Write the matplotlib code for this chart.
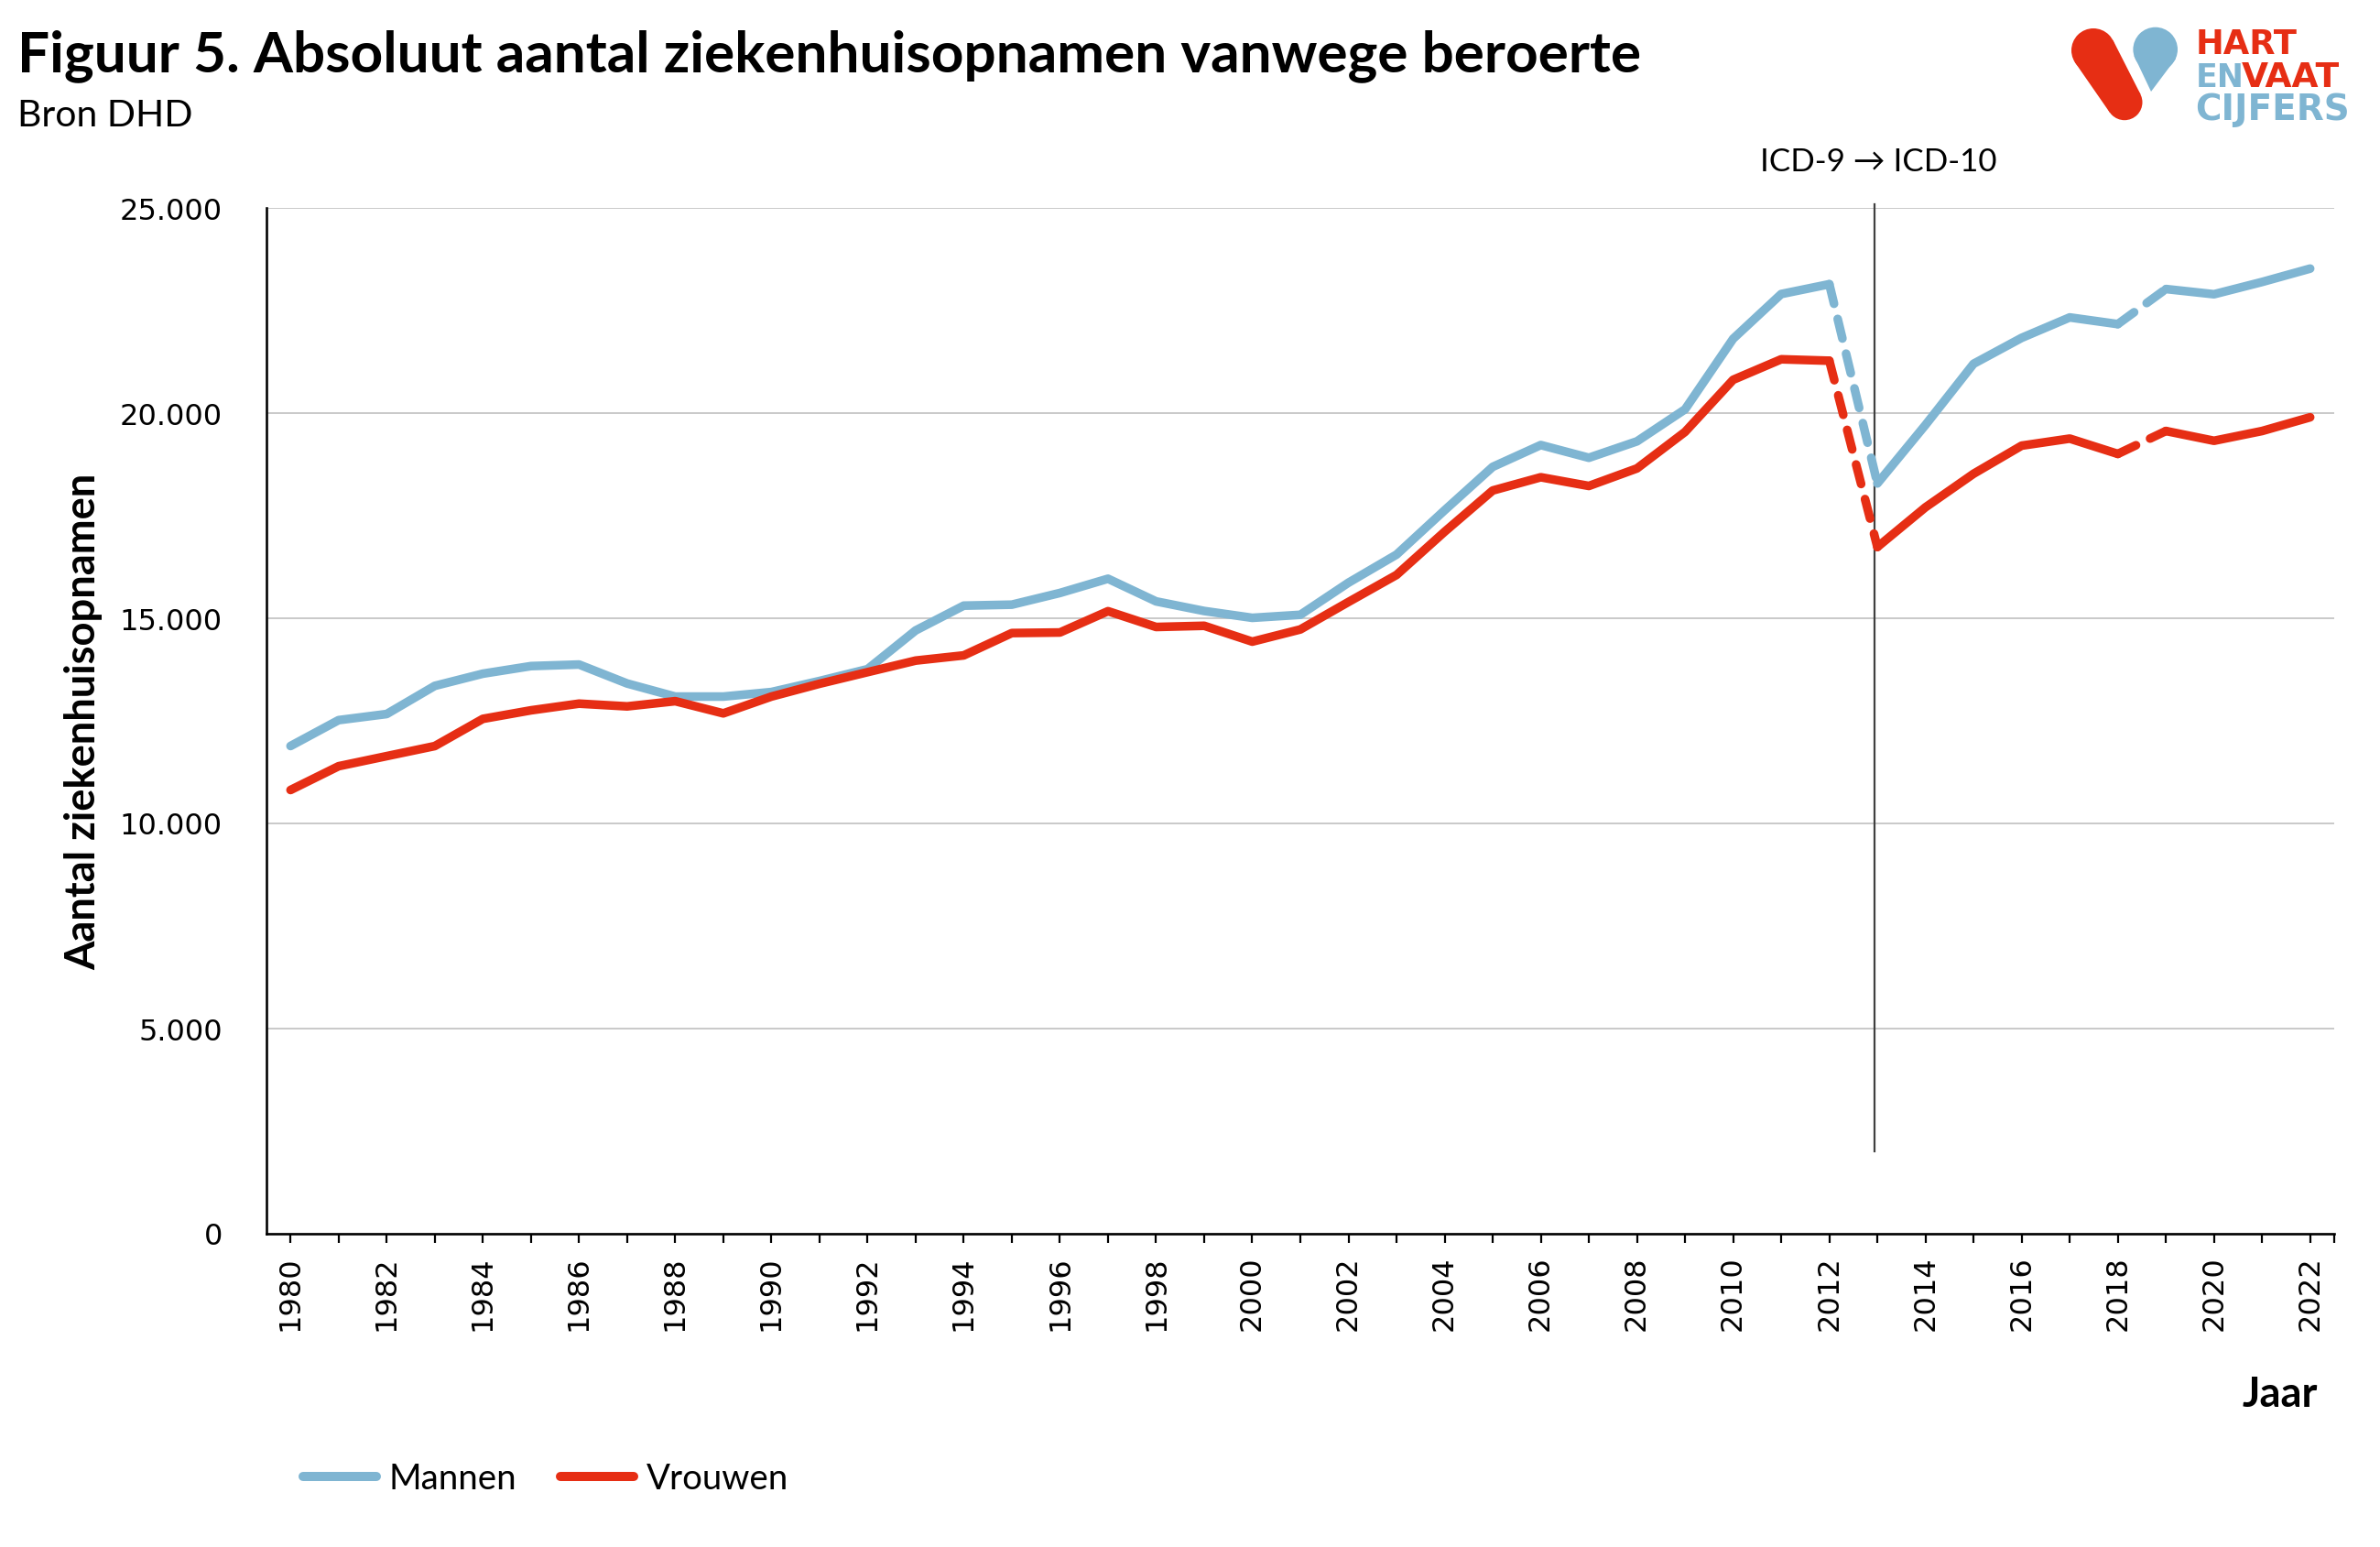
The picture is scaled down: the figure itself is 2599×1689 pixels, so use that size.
import matplotlib
matplotlib.use("Agg")
import matplotlib.pyplot as plt
from matplotlib.lines import Line2D
from matplotlib.patches import Circle, Polygon

W, H, DPI = 2599, 1690, 100
PT = 72 / DPI  # points per pixel

years = list(range(1980, 2023))
mannen = [11875, 12506, 12655, 13341, 13638, 13823, 13861, 13399, 13080, 13080,
          13191, 13460, 13749, 14692, 15296, 15320, 15605, 15952, 15400, 15166,
          14999, 15073, 15855, 16540, 17620, 18678, 19210, 18900, 19300, 20080,
          21800, 22890, 23130, 18274, 19700, 21190, 21822, 22320, 22157, 23012,
          22885, 23184, 23510]
vrouwen = [10803, 11383, 11629, 11874, 12537, 12745, 12908, 12841, 12968, 12671,
           13080, 13392, 13675, 13957, 14084, 14628, 14642, 15161, 14776, 14805,
           14419, 14716, 15385, 16044, 17097, 18102, 18425, 18213, 18640, 19530,
           20800, 21300, 21265, 16725, 17693, 18510, 19195, 19367, 18994, 19552,
           19314, 19552, 19887]
# Years between which the series are dashed (definition/registration breaks)
dashed_from = [2012, 2018]
y_ticks = [0, 5000, 10000, 15000, 20000, 25000]
y_labels = ["0", "5.000", "10.000", "15.000", "20.000", "25.000"]
x_label_years = years[::2]
ICD_YEAR = 2012.94
ICD_LOW = 2000
ICD_HIGH = 25080

BLUE = "#7FB5D2"
RED = "#E62E14"
TXT = "#000000"
TICKFONT = "DejaVu Sans"
HEAD = "Lato"

plt.rcParams["font.family"] = [HEAD, "DejaVu Sans"]
plt.rcParams["lines.scale_dashes"] = False

fig = plt.figure(figsize=(W / DPI, H / DPI), dpi=DPI, facecolor="white")
L, R, T, B = 291, 2549, 227.5, 1347.5
ax = fig.add_axes([L / W, 1 - B / H, (R - L) / W, (B - T) / H])
ax.set_xlim(1979.5, 2022.5)
ax.set_ylim(0, 25000)

ax.set_yticks(y_ticks)
ax.set_yticklabels(y_labels, fontsize=23, color=TXT, family=TICKFONT)
ax.set_xticks(years)
ax.set_xticklabels([str(y) if y in x_label_years else "" for y in years],
                   rotation=90, fontsize=23, color=TXT, family=TICKFONT)
ax.set_xticks([2022.5], minor=True)
ax.tick_params(axis="y", length=0, pad=48 * PT)
ax.tick_params(axis="x", which="both", length=10 * PT, width=2.2 * PT, pad=14 * PT)
ax.grid(axis="y", color="#BEBEBE", linewidth=1.6 * PT)
ax.set_axisbelow(True)
for s in ("top", "right"):
    ax.spines[s].set_visible(False)
for s in ("left", "bottom"):
    ax.spines[s].set_linewidth(2.6 * PT)
    ax.spines[s].set_color("black")

ax.plot([ICD_YEAR, ICD_YEAR], [ICD_LOW, ICD_HIGH], color="#404040",
        linewidth=2.2 * PT, clip_on=False, zorder=2)

LW = 9.5 * PT
DASH = (22 * PT, 17 * PT)


def draw(values, color):
    breaks = [years[0]] + sorted(d for f in dashed_from for d in (f, f + 1)) + [years[-1]]
    for a, b in zip(breaks[::2], breaks[1::2]):
        i, j = years.index(a), years.index(b)
        ax.plot(years[i:j + 1], values[i:j + 1], color=color, linewidth=LW,
                solid_capstyle="round", solid_joinstyle="round", zorder=3)
    for a in dashed_from:
        i = years.index(a)
        ax.plot(years[i:i + 2], values[i:i + 2], color=color, linewidth=LW,
                linestyle=(0, DASH), dash_capstyle="round", zorder=3)


draw(mannen, BLUE)
draw(vrouwen, RED)

handles = [Line2D([], [], color=BLUE, linewidth=10 * PT, solid_capstyle="round"),
           Line2D([], [], color=RED, linewidth=10 * PT, solid_capstyle="round")]
ax.legend(handles, ["Mannen", "Vrouwen"], ncol=2, frameon=False, fontsize=27.6,
          loc="center left", bbox_to_anchor=(331 / W, 1 - 1615 / H),
          bbox_transform=fig.transFigure, borderpad=0, borderaxespad=0,
          handlelength=2.08, handletextpad=0.36, columnspacing=1.25)


def px(x, y, s, **kw):
    kw.setdefault("va", "baseline")
    kw.setdefault("color", TXT)
    return fig.text(x / W, 1 - y / H, s, **kw)


px(19, 78, "Figuur 5. Absoluut aantal ziekenhuisopnamen vanwege beroerte",
   fontsize=44.7, fontweight="bold", family=HEAD)
px(19, 138, "Bron DHD", fontsize=29.5, family=HEAD)
px(2051, 187, "ICD-9 \u2192 ICD-10", fontsize=25.1, ha="center", family=[HEAD, "DejaVu Sans"])
px(2531, 1536, "Jaar", fontsize=32.6, fontweight="bold", ha="right", family=HEAD)
px(91, 788, "Aantal ziekenhuisopnamen", fontsize=32.6, fontweight="bold", family=HEAD,
   rotation=90, ha="center", va="center")

# Logo
lg = fig.add_axes([0, 0, 1, 1], facecolor="none")
lg.set_xlim(0, W)
lg.set_ylim(H, 0)
lg.axis("off")
lg.add_patch(Circle((2286, 56), 24, color=RED, lw=0))
lg.add_patch(Circle((2320, 112.7), 19.5, color=RED, lw=0))
lg.add_patch(Polygon([(2265.5, 68.5), (2304, 124), (2337.5, 104), (2307.5, 45)], color=RED, lw=0))
lg.add_patch(Circle((2353.7, 55), 24.3, color=BLUE, lw=0))
lg.add_patch(Polygon([(2330.5, 62), (2349, 101), (2376, 65)], color=BLUE, lw=0))
for x, y, s, c, fs in [(2398, 59, "HART", RED, 26.5), (2398, 95, "EN", BLUE, 25), (2448, 95, "VAAT", RED, 27),
                       (2397, 131, "CIJFERS", BLUE, 28)]:
    lg.text(x, y, s, color=c, fontsize=fs, fontweight="bold", family="DejaVu Sans", va="baseline")

fig.savefig("out.png", dpi=DPI)
